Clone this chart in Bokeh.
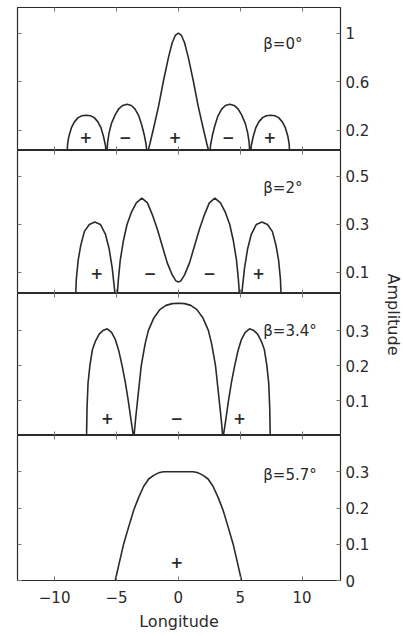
import math

from bokeh.core.properties import value
from bokeh.embed import file_html
from bokeh.layouts import column, row
from bokeh.models import CustomJSTickFormatter, FixedTicker, LinearAxis, Range1d
from bokeh.plotting import figure
from bokeh.resources import INLINE

FONT = "DejaVu Sans"
INK = "#2a2a2a"
TICK = "#777777"

# ---- data -------------------------------------------------------------
lon_ticks = [-10, -5, 0, 5, 10]

# beta = 0 deg
b0_lon = [-9.0, -8.95, -8.85, -8.65, -8.4, -8.1, -7.8, -7.45, -7.1, -6.8, -6.5, -6.25, -6.05, -5.9, -5.82,
          -5.78, -5.72, -5.6, -5.4, -5.1, -4.8, -4.5, -4.15, -3.8, -3.5, -3.2, -2.95, -2.75, -2.6, -2.53,
          -2.3, -2.0, -1.6, -1.2, -0.8, -0.5, -0.25, 0.0, 0.25, 0.5, 0.8, 1.2, 1.6, 2.0, 2.3,
          2.53, 2.6, 2.75, 2.95, 3.2, 3.5, 3.8, 4.15, 4.5, 4.8, 5.1, 5.4, 5.6, 5.72, 5.78,
          5.82, 5.9, 6.05, 6.25, 6.5, 6.8, 7.1, 7.45, 7.8, 8.1, 8.4, 8.65, 8.85, 8.95, 9.0]
b0_amp = [0.0, 0.09, 0.15, 0.22, 0.27, 0.305, 0.32, 0.325, 0.32, 0.305, 0.27, 0.22, 0.15, 0.08, 0.0,
          0.0, 0.1, 0.18, 0.26, 0.33, 0.38, 0.405, 0.415, 0.405, 0.375, 0.32, 0.24, 0.16, 0.08, 0.0,
          0.09, 0.22, 0.40, 0.61, 0.80, 0.92, 0.98, 1.0, 0.98, 0.92, 0.80, 0.61, 0.40, 0.22, 0.09,
          0.0, 0.08, 0.16, 0.24, 0.32, 0.375, 0.405, 0.415, 0.405, 0.38, 0.33, 0.26, 0.18, 0.1, 0.0,
          0.0, 0.08, 0.15, 0.22, 0.27, 0.305, 0.32, 0.325, 0.32, 0.305, 0.27, 0.22, 0.15, 0.09, 0.0]

# beta = 2 deg
b2_lon = [-8.3, -8.25, -8.1, -7.9, -7.6, -7.2, -6.75, -6.3, -5.9, -5.6, -5.35, -5.18, -5.1,
          -4.95, -4.85, -4.7, -4.45, -4.15, -3.8, -3.4, -2.95, -2.5, -2.1, -1.7, -1.3, -0.9, -0.5, -0.2, 0.0,
          0.2, 0.5, 0.9, 1.3, 1.7, 2.1, 2.5, 2.95, 3.4, 3.8, 4.15, 4.45, 4.7, 4.85, 4.95,
          5.1, 5.18, 5.35, 5.6, 5.9, 6.3, 6.75, 7.2, 7.6, 7.9, 8.1, 8.25, 8.3]
b2_amp = [0.0, 0.07, 0.15, 0.21, 0.27, 0.30, 0.31, 0.30, 0.26, 0.20, 0.12, 0.04, 0.0,
          0.0, 0.07, 0.15, 0.23, 0.30, 0.35, 0.39, 0.41, 0.39, 0.34, 0.28, 0.21, 0.14, 0.09, 0.065, 0.06,
          0.065, 0.09, 0.14, 0.21, 0.28, 0.34, 0.39, 0.41, 0.39, 0.35, 0.30, 0.23, 0.15, 0.07, 0.0,
          0.0, 0.04, 0.12, 0.20, 0.26, 0.30, 0.31, 0.30, 0.27, 0.21, 0.15, 0.07, 0.0]

# beta = 3.4 deg
b34_lon = [-7.42, -7.38, -7.3, -7.15, -6.95, -6.7, -6.4, -6.1, -5.75, -5.4, -5.1, -4.8, -4.55, -4.3, -4.05, -3.85, -3.64,
           -3.58, -3.45, -3.3, -3.0, -2.7, -2.43, -2.0, -1.5, -1.0, -0.5, 0.0,
           0.5, 1.0, 1.5, 2.0, 2.43, 2.7, 3.0, 3.3, 3.45, 3.58,
           3.64, 3.85, 4.05, 4.3, 4.55, 4.8, 5.1, 5.4, 5.75, 6.1, 6.4, 6.7, 6.95, 7.15, 7.3, 7.38, 7.42]
b34_amp = [0.0, 0.08, 0.15, 0.20, 0.245, 0.27, 0.29, 0.30, 0.305, 0.295, 0.275, 0.24, 0.20, 0.155, 0.10, 0.05, 0.0,
           0.0, 0.05, 0.10, 0.20, 0.26, 0.30, 0.335, 0.36, 0.372, 0.377, 0.378,
           0.377, 0.372, 0.36, 0.335, 0.30, 0.26, 0.20, 0.10, 0.05, 0.0,
           0.0, 0.05, 0.10, 0.155, 0.20, 0.24, 0.275, 0.295, 0.305, 0.30, 0.29, 0.27, 0.245, 0.20, 0.15, 0.08, 0.0]

# beta = 5.7 deg
b57_lon = [-5.1, -4.8, -4.45, -4.0, -3.6, -3.2, -2.8, -2.4, -2.0, -1.6, -1.2, -0.6, 0.0,
           0.6, 1.2, 1.6, 2.0, 2.4, 2.8, 3.2, 3.6, 4.0, 4.45, 4.8, 5.1]
b57_amp = [0.0, 0.045, 0.097, 0.15, 0.195, 0.23, 0.26, 0.28, 0.29, 0.297, 0.30, 0.30, 0.30,
           0.30, 0.30, 0.297, 0.29, 0.28, 0.26, 0.23, 0.195, 0.15, 0.097, 0.045, 0.0]

# sign of each lobe
b0_sign_lon = [-7.48, -4.3, -0.27, 4.03, 7.38]
b0_sign_amp = [0.15, 0.15, 0.15, 0.15, 0.15]
b0_sign_txt = ["+", "\u2212", "+", "\u2212", "+"]
b2_sign_lon = [-6.6, -2.29, 2.51, 6.48]
b2_sign_amp = [0.097, 0.097, 0.097, 0.097]
b2_sign_txt = ["+", "\u2212", "\u2212", "+"]
b34_sign_lon = [-5.74, -0.13, 4.94]
b34_sign_amp = [0.05, 0.05, 0.05]
b34_sign_txt = ["+", "\u2212", "+"]
b57_sign_lon = [-0.13]
b57_sign_amp = [0.052]
b57_sign_txt = ["+"]

beta_labels = ["\u03b2=0\u00b0", "\u03b2=2\u00b0", "\u03b2=3.4\u00b0", "\u03b2=5.7\u00b0"]
beta_label_lon = [6.86, 6.86, 6.86, 6.86]
beta_label_amp = [0.91, 0.45, 0.30, 0.29]

b0_ticks = [0.2, 0.6, 1]
b2_ticks = [0.1, 0.3, 0.5]
b34_ticks = [0.1, 0.2, 0.3]
b57_ticks = [0, 0.1, 0.2, 0.3]

# ---- drawing ------------------------------------------------------------
x_range = Range1d(-13.0, 13.1)
plain_fmt = CustomJSTickFormatter(code="return tick.toString();")
lon_fmt = CustomJSTickFormatter(code="return tick < 0 ? '\\u2212' + Math.abs(tick) : tick.toString();")


def silent_axis(ticks):
    # inward tick marks only, no labels
    return LinearAxis(ticker=FixedTicker(ticks=ticks), major_label_text_color=None,
                      major_label_standoff=0, major_tick_in=4, major_tick_out=0,
                      major_tick_line_color=TICK, axis_line_color=None, minor_tick_line_color=None)


def panel(lon, amp, y_lo, y_hi, ticks, label, label_lon, label_amp,
          s_lon, s_amp, s_txt, height, top, bottom, last=False):
    p = figure(width=375, height=height, x_range=x_range, y_range=Range1d(y_lo, y_hi),
               output_backend="svg", toolbar_location=None,
               x_axis_location=None, y_axis_location=None,
               min_border_left=17, min_border_right=35,
               min_border_top=top, min_border_bottom=bottom,
               outline_line_color=INK, outline_line_width=1.2,
               background_fill_color="white", border_fill_color="white")
    p.grid.visible = False

    p.add_layout(silent_axis(ticks), "left")
    p.add_layout(silent_axis(lon_ticks), "above")

    right = LinearAxis(ticker=FixedTicker(ticks=ticks), formatter=plain_fmt,
                       major_tick_in=4, major_tick_out=0, major_tick_line_color=TICK,
                       minor_tick_line_color=None, axis_line_color=None,
                       major_label_standoff=5, major_label_text_font=FONT,
                       major_label_text_font_size="15px", major_label_text_color=INK)
    p.add_layout(right, "right")

    if last:
        below = LinearAxis(ticker=FixedTicker(ticks=lon_ticks), formatter=lon_fmt,
                           major_tick_in=4, major_tick_out=0, major_tick_line_color=TICK,
                           minor_tick_line_color=None, axis_line_color=None,
                           major_label_standoff=10, major_label_text_font=FONT,
                           major_label_text_font_size="15px", major_label_text_color=INK,
                           axis_label="Longitude", axis_label_text_font=FONT,
                           axis_label_text_font_size="16px", axis_label_text_font_style="normal",
                           axis_label_text_color=INK, axis_label_standoff=6)
        p.add_layout(below, "below")
    else:
        p.add_layout(silent_axis(lon_ticks), "below")

    p.line(lon, amp, line_color=INK, line_width=1.6)
    p.text(x=s_lon, y=s_amp, text=s_txt, text_font=value(FONT), text_font_size="15px",
           text_font_style="bold", text_align="center", text_baseline="middle", text_color=INK)
    p.text(x=[label_lon], y=[label_amp], text=[label], text_font=value(FONT),
           text_font_size="15px", text_align="left", text_baseline="middle", text_color=INK)
    return p


p1 = panel(b0_lon, b0_amp, 0.035, 1.21, b0_ticks, beta_labels[0], beta_label_lon[0], beta_label_amp[0],
           b0_sign_lon, b0_sign_amp, b0_sign_txt, 150, 7, 0)
p2 = panel(b2_lon, b2_amp, 0.0125, 0.608, b2_ticks, beta_labels[1], beta_label_lon[1], beta_label_amp[1],
           b2_sign_lon, b2_sign_amp, b2_sign_txt, 143, 0, 0)
p3 = panel(b34_lon, b34_amp, 0.0, 0.406, b34_ticks, beta_labels[2], beta_label_lon[2], beta_label_amp[2],
           b34_sign_lon, b34_sign_amp, b34_sign_txt, 142, 0, 0)
p4 = panel(b57_lon, b57_amp, 0.0, 0.40, b57_ticks, beta_labels[3], beta_label_lon[3], beta_label_amp[3],
           b57_sign_lon, b57_sign_amp, b57_sign_txt, 201, 0, 56, last=True)

# shared vertical axis title, spanning the stacked panels
side = figure(width=28, height=636, x_range=Range1d(0, 28), y_range=Range1d(636, 0),
              output_backend="svg", toolbar_location=None,
              x_axis_location=None, y_axis_location=None, min_border=0,
              outline_line_color=None, background_fill_color="white", border_fill_color="white")
side.grid.visible = False
side.text(x=[18], y=[314], text=["Amplitude"], angle=-math.pi / 2, text_font=value(FONT),
          text_font_size="16px", text_align="center", text_baseline="middle", text_color=INK)

layout = row(column(p1, p2, p3, p4, spacing=0), side, spacing=0)

with open("out.html", "w") as f:
    f.write(file_html(layout, INLINE))
